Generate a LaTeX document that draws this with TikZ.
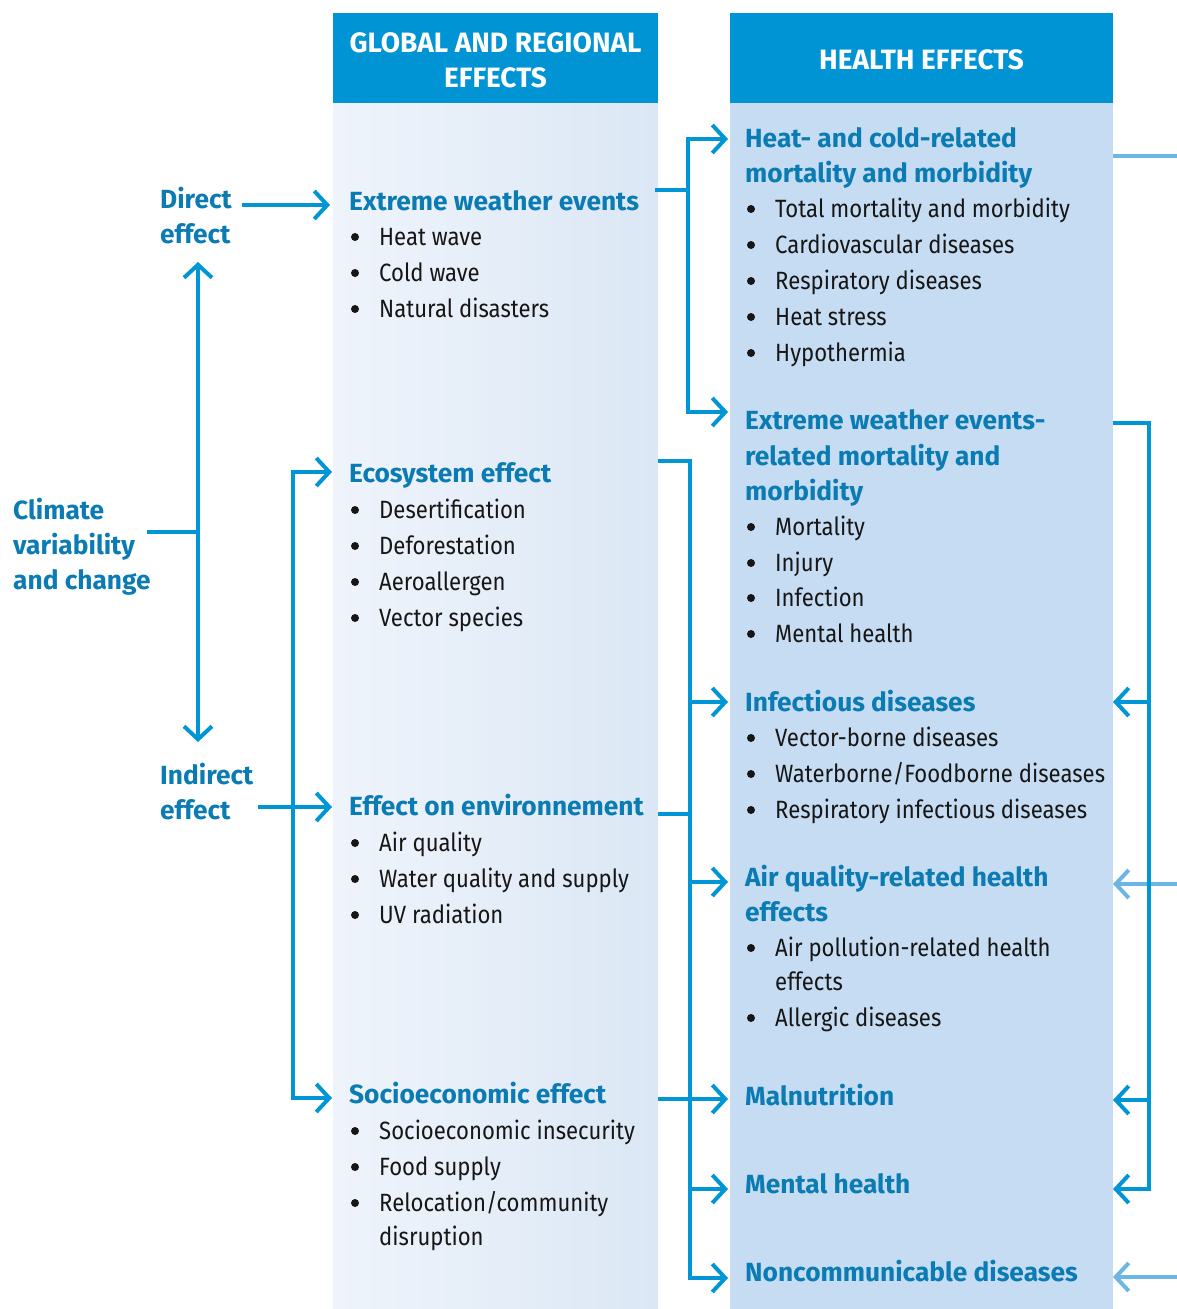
\documentclass[tikz,border=0pt]{standalone}
\usepackage{fontspec}
\setmainfont[FakeStretch=0.885]{Fira Sans}
\newfontfamily\tfam{Fira Sans}
\usetikzlibrary{arrows.meta}
\definecolor{hdr}{HTML}{0094D5}
\definecolor{ln}{HTML}{0096D6}
\definecolor{lln}{HTML}{6DB6E4}
\definecolor{ttlc}{HTML}{0B7BB3}
\definecolor{lbodyL}{HTML}{EFF4FB}
\definecolor{lbodyR}{HTML}{DBE7F5}
\definecolor{rbody}{HTML}{C6DCF2}
\definecolor{txt}{HTML}{161616}
\tikzset{
  conn/.style={draw=ln, line width=4pt},
  lconn/.style={draw=lln, line width=4pt},
  tipR/.style={-{Straight Barb[length=13pt,width=28pt]}},
  tipB/.style={{Straight Barb[length=13pt,width=28pt]}-{Straight Barb[length=13pt,width=28pt]}},
  ttl/.style={anchor=base west, inner sep=0pt, font=\tfam\fontsize{26.3}{30}\selectfont\bfseries, text=ttlc},
  itm/.style={anchor=base west, inner sep=0pt, font=\fontsize{25}{30}\selectfont, text=txt},
  bul/.style={circle, fill=txt, inner sep=0pt, minimum size=8pt},
  hdrbox/.style={fill=hdr, inner sep=0pt, align=center, text=white, font=\tfam\fontsize{28}{35}\selectfont\bfseries},
  hdrtxt/.style={inner sep=0pt, align=center, text=white, font=\tfam\fontsize{28}{35}\selectfont\bfseries},
}
\newcommand\bitm[4]{\node[itm] (#1) at (#2,#3) {#4}; \node[bul] (#1-b) at (#2-24,#3-8) {};}
\begin{document}
\begin{tikzpicture}[x=1pt,y=-1pt]
\useasboundingbox (0,0) rectangle (1177,1309);
% columns
\shade[left color=lbodyL, right color=lbodyR] (333,103) rectangle (658,1309);
\fill[rbody] (730,103) rectangle (1113,1309);
\node[hdrbox, minimum width=325pt, minimum height=90pt] (hL) at (495.5,58) {};
\node[hdrbox, minimum width=383pt, minimum height=90pt] (hR) at (921.5,58) {};
\node[hdrtxt] (hLt) at (495.5,60) {GLOBAL AND REGIONAL\\EFFECTS};
\node[hdrtxt] (hRt) at (921.5,60) {HEALTH EFFECTS};

% left labels
\node[ttl] (dir1) at (160,208) {Direct};
\node[ttl] (dir2) at (160,243) {effect};
\node[ttl] (cl1) at (13,519) {Climate};
\node[ttl] (cl2) at (13,554) {variability};
\node[ttl] (cl3) at (13,589) {and change};
\node[ttl] (ind1) at (160,784) {Indirect};
\node[ttl] (ind2) at (160,819) {effect};

% global and regional effects
\node[ttl] (ewe) at (349,210) {Extreme weather events};
\bitm{a1}{379}{245}{Heat wave}
\bitm{a2}{379}{281}{Cold wave}
\bitm{a3}{379}{317}{Natural disasters}
\node[ttl] (eco) at (349,482) {Ecosystem effect};
\bitm{b1}{379}{518}{Desertification}
\bitm{b2}{379}{554}{Deforestation}
\bitm{b3}{379}{590}{Aeroallergen}
\bitm{b4}{379}{626}{Vector species}
\node[ttl] (env) at (349,815) {Effect on environnement};
\bitm{c1}{379}{851}{Air quality}
\bitm{c2}{379}{887}{Water quality and supply}
\bitm{c3}{379}{923}{UV radiation}
\node[ttl] (soc) at (349,1103) {Socioeconomic effect};
\bitm{d1}{379}{1139}{Socioeconomic insecurity}
\bitm{d2}{379}{1175}{Food supply}
\bitm{d3}{379}{1211}{Relocation/community}
\node[itm] (d3b) at (379,1245) {disruption};

% health effects
\node[ttl] (h1a) at (745,147) {Heat- and cold-related};
\node[ttl] (h1b) at (745,182) {mortality and morbidity};
\bitm{e1}{775}{217}{Total mortality and morbidity}
\bitm{e2}{775}{253}{Cardiovascular diseases}
\bitm{e3}{775}{289}{Respiratory diseases}
\bitm{e4}{775}{325}{Heat stress}
\bitm{e5}{775}{361}{Hypothermia}
\node[ttl] (h2a) at (745,429) {Extreme weather events-};
\node[ttl] (h2b) at (745,465) {related mortality and};
\node[ttl] (h2c) at (745,500) {morbidity};
\bitm{f1}{775}{535}{Mortality}
\bitm{f2}{775}{571}{Injury}
\bitm{f3}{775}{606}{Infection}
\bitm{f4}{775}{642}{Mental health}
\node[ttl] (h3) at (745,711) {Infectious diseases};
\bitm{g1}{775}{746}{Vector-borne diseases}
\bitm{g2}{775}{782}{Waterborne/Foodborne diseases}
\bitm{g3}{775}{818}{Respiratory infectious diseases}
\node[ttl] (h4a) at (745,886) {Air quality-related health};
\node[ttl] (h4b) at (745,921) {effects};
\bitm{k1}{775}{956}{Air pollution-related health}
\node[itm] (k1b) at (775,990) {effects};
\bitm{k2}{775}{1026}{Allergic diseases}
\node[ttl] (h5) at (745,1105) {Malnutrition};
\node[ttl] (h6) at (745,1193) {Mental health};
\node[ttl] (h7) at (745,1281) {Noncommunicable diseases};

% coordinates
\coordinate (cs) at (147,532);
\coordinate (cj) at (198,532);
\coordinate (vt) at (198,262);
\coordinate (vb) at (198,742);
\coordinate (ds) at (242,205);
\coordinate (de) at (330,205);
\coordinate (is) at (258,807);
\coordinate (ie) at (332,807);
\coordinate (br1) at (332,472);
\coordinate (br2) at (293,472);
\coordinate (br3) at (293,1098);
\coordinate (br4) at (332,1098);
\coordinate (ew1) at (655,190);
\coordinate (ewj) at (688,190);
\coordinate (hb1) at (728,139);
\coordinate (hb2) at (688,139);
\coordinate (hb3) at (688,412);
\coordinate (hb4) at (728,412);
\coordinate (ec1) at (658,461);
\coordinate (ec2) at (690,461);
\coordinate (ec3) at (690,1278);
\coordinate (ec4) at (728,1278);
\coordinate (en1) at (658,814);
\coordinate (en2) at (690,814);
\coordinate (so1) at (658,1099);
\coordinate (so2) at (728,1099);
\coordinate (m1) at (690,702);
\coordinate (m2) at (728,702);
\coordinate (m3) at (690,882);
\coordinate (m4) at (728,882);
\coordinate (m5) at (690,1189);
\coordinate (m6) at (728,1189);
\coordinate (r1) at (1113,423);
\coordinate (r2) at (1149,423);
\coordinate (r3) at (1149,1189);
\coordinate (r4) at (1113,1189);
\coordinate (r5) at (1149,702);
\coordinate (r6) at (1113,702);
\coordinate (r7) at (1149,1100);
\coordinate (r8) at (1113,1100);
\coordinate (l1) at (1113,156);
\coordinate (l2) at (1177,156);
\coordinate (l3) at (1177,884);
\coordinate (l4) at (1113,884);
\coordinate (l5) at (1177,1277);
\coordinate (l6) at (1113,1277);

% light connectors
\draw[lconn] (l1) -- (l2);
\draw[lconn, tipR] (l3) -- (l4);
\draw[lconn, tipR] (l5) -- (l6);

% dark connectors
\draw[conn] (cs) -- (cj);
\draw[conn, tipB] (vt) -- (vb);
\draw[conn, tipR] (ds) -- (de);
\draw[conn, tipB] (br1) -- (br2) -- (br3) -- (br4);
\draw[conn, tipR] (is) -- (ie);
\draw[conn] (ew1) -- (ewj);
\draw[conn, tipB] (hb1) -- (hb2) -- (hb3) -- (hb4);
\draw[conn, tipR] (ec1) -- (ec2) -- (ec3) -- (ec4);
\draw[conn] (en1) -- (en2);
\draw[conn, tipR] (so1) -- (so2);
\draw[conn, tipR] (m1) -- (m2);
\draw[conn, tipR] (m3) -- (m4);
\draw[conn, tipR] (m5) -- (m6);
\draw[conn, tipR] (r1) -- (r2) -- (r3) -- (r4);
\draw[conn, tipR] (r5) -- (r6);
\draw[conn, tipR] (r7) -- (r8);
\end{tikzpicture}
\end{document}
